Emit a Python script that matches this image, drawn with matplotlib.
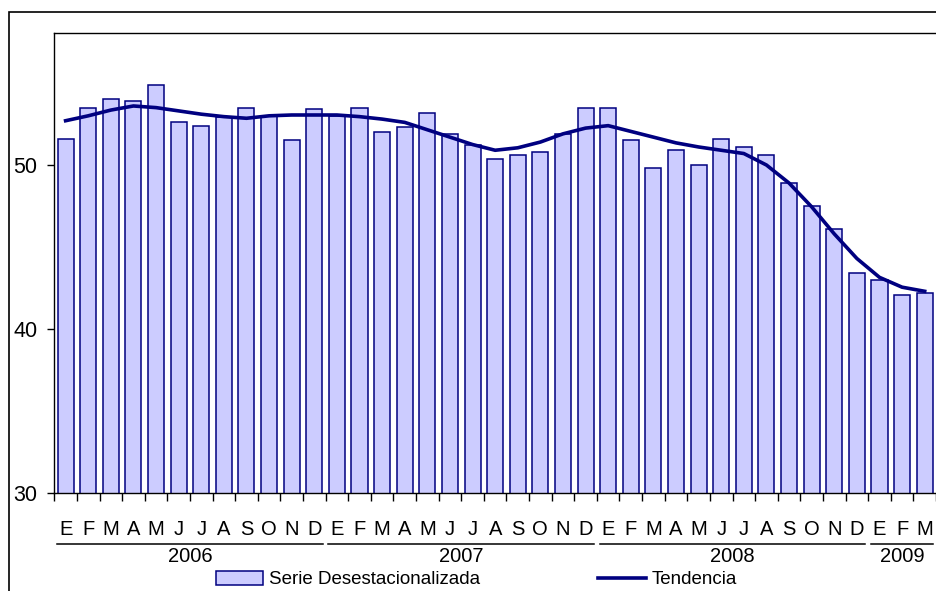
import numpy as np
import matplotlib
matplotlib.use("Agg")
import matplotlib.pyplot as plt
from matplotlib.patches import Rectangle, Patch
from matplotlib.lines import Line2D
import matplotlib.transforms as mtransforms

plt.rcParams["font.family"] = ["Liberation Sans", "DejaVu Sans"]

MONTHS = ["E", "F", "M", "A", "M", "J", "J", "A", "S", "O", "N", "D"]
YEARS = ["2006", "2007", "2008", "2009"]

serie = [51.6, 53.5, 54.0, 53.9, 54.9, 52.6, 52.4, 52.9, 53.5, 53.0, 51.5, 53.4,
         53.0, 53.5, 52.0, 52.3, 53.2, 51.9, 51.2, 50.35, 50.6, 50.8, 51.9, 53.5,
         53.5, 51.5, 49.8, 50.9, 50.0, 51.6, 51.1, 50.6, 48.9, 47.5, 46.1, 43.4,
         43.0, 42.1, 42.2]
tendencia = [52.7, 53.0, 53.35, 53.6, 53.5, 53.3, 53.1, 52.95, 52.85, 53.0, 53.05, 53.05,
             53.05, 52.95, 52.8, 52.6, 52.15, 51.7, 51.25, 50.9, 51.05, 51.4, 51.9, 52.25,
             52.4, 52.05, 51.7, 51.35, 51.1, 50.9, 50.7, 50.0, 48.9, 47.45, 45.8, 44.3,
             43.15, 42.55, 42.3]

n = len(serie)
x = np.arange(n)
labels = [MONTHS[i % 12] for i in range(n)]

fig = plt.figure(figsize=(9.36, 5.91), dpi=100)
fig.patches.append(Rectangle((9 / 936, -0.2), 1.2, 1.2 - 12 / 591,
                             transform=fig.transFigure, fill=False,
                             edgecolor="black", lw=1.2, zorder=0))
ax = fig.add_axes([54.3 / 936, 98 / 591, (936 - 54.3) / 936, 460 / 591])

ax.bar(x, serie, width=0.71, color="#ccccff", edgecolor="#000080", lw=1.1, zorder=2)
ax.plot(x, tendencia, color="#000080", lw=2.6, zorder=3)

ax.set_xlim(-0.5, n - 0.5)
ax.set_ylim(30, 58.05)
ax.set_yticks([30, 40, 50])
ax.tick_params(axis="y", direction="out", length=5, width=1, pad=7, labelsize=15.5)

ax.set_xticks(x)
ax.set_xticklabels(labels, fontsize=14.5)
ax.tick_params(axis="x", which="major", length=0, pad=19.5)
ax.set_xticks(np.arange(-0.5, n, 1.0), minor=True)
ax.tick_params(axis="x", which="minor", direction="out", length=6, width=1)

ax.spines["right"].set_visible(False)
for s in ["top", "left", "bottom"]:
    ax.spines[s].set_linewidth(1.0)

trans = mtransforms.blended_transform_factory(ax.transData, ax.transAxes)
for k, yr in enumerate(YEARS):
    start = k * 12
    end = min(start + 12, n)
    ax.plot([start - 0.38, end - 0.62], [-0.111, -0.111], color="black", lw=1.1,
            transform=trans, clip_on=False)
    ax.text((start + end - 1) / 2, -0.139, yr, transform=trans, ha="center",
            va="center", fontsize=14.5)

handles = [Patch(facecolor="#ccccff", edgecolor="#000080", lw=1.1),
           Line2D([0], [0], color="#000080", lw=2.6)]
fig.legend(handles, ["Serie Desestacionalizada", "Tendencia"], loc="center",
           bbox_to_anchor=(0.509, 0.019), ncol=2, frameon=False, fontsize=13.5,
           handlelength=2.55, handleheight=0.75, handletextpad=0.3,
           columnspacing=6.3, borderpad=0)

fig.savefig("out.png", dpi=100)
